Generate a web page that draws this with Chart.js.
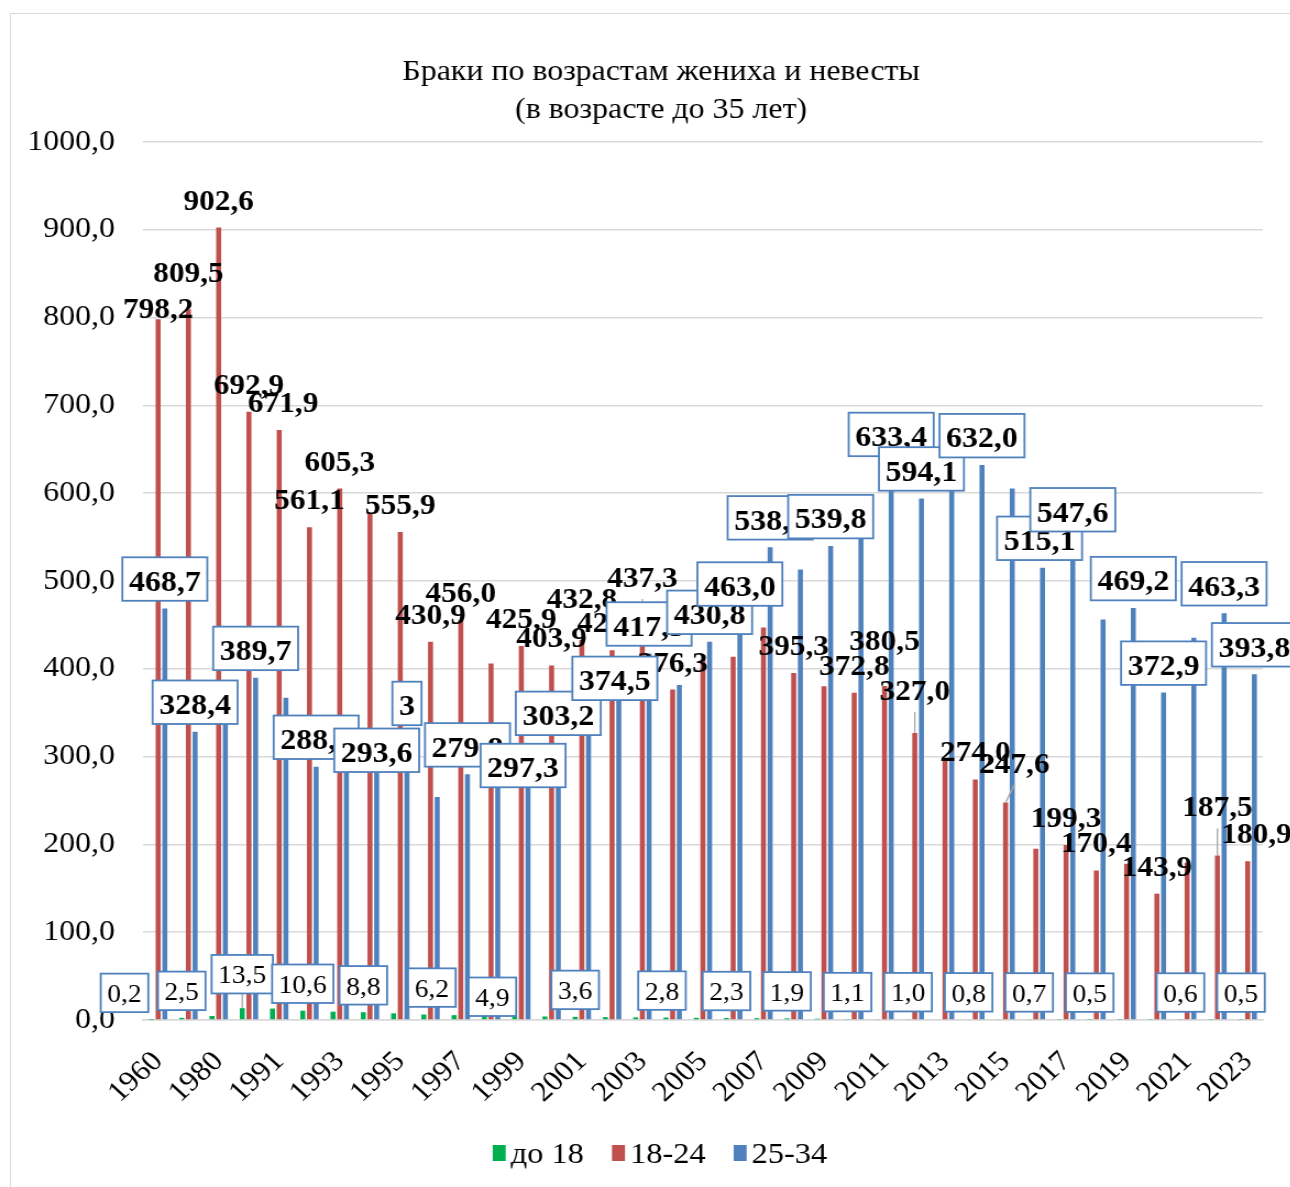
<!DOCTYPE html>
<html lang="ru">
<head>
<meta charset="utf-8">
<title>Браки по возрастам жениха и невесты</title>
<script src="https://cdn.jsdelivr.net/npm/chart.js@4.4.1/dist/chart.umd.min.js"></script>
<style>
  html, body { margin: 0; padding: 0; background: #fff; overflow: hidden; width: 1290px; height: 1187px; }
  #frame { position: absolute; left: 10px; top: 13px; width: 1300px; height: 1200px;
           border: 1px solid #d9d9d9; box-sizing: border-box; overflow: hidden; }
  /* the original picture is a little wider than Times metrics: stretch horizontally */
  #stretch { position: absolute; left: 0; top: 0; transform: scaleX(1.1); transform-origin: 0 0; }
  canvas { display: block; }
</style>
</head>
<body>
<div id="frame"><div id="stretch"><canvas id="chart" width="1182" height="1173"></canvas></div></div>
<script>
// ---- data -------------------------------------------------------------
const YEARS = ["1960", "1970", "1980", "1990", "1991", "1992", "1993", "1994", "1995", "1996",
  "1997", "1998", "1999", "2000", "2001", "2002", "2003", "2004", "2005", "2006", "2007",
  "2008", "2009", "2010", "2011", "2012", "2013", "2014", "2015", "2016", "2017", "2018",
  "2019", "2020", "2021", "2022", "2023"];

const UNDER_18 = [0.2, 2.5, 4.6, 13.5, 13.0, 10.6, 9.5, 8.8, 7.6, 6.2, 5.5, 4.9, 4.3, 4.0,
  3.6, 3.3, 3.0, 2.8, 2.5, 2.3, 2.1, 1.9, 1.5, 1.1, 1.0, 1.0, 0.9, 0.8, 0.7, 0.7, 0.6, 0.5,
  0.5, 0.5, 0.6, 0.5, 0.5];

const AGE_18_24 = [798.2, 809.5, 902.6, 692.9, 671.9, 561.1, 605.3, 577.0, 555.9, 430.9,
  456.0, 406.0, 425.9, 403.9, 432.8, 421.0, 437.3, 376.3, 410.0, 413.8, 447.0, 395.3, 380.0,
  372.8, 380.5, 327.0, 298.0, 274.0, 247.6, 195.0, 199.3, 170.4, 178.0, 143.9, 179.0, 187.5,
  180.9];

const AGE_25_34 = [468.7, 328.4, 345.0, 389.7, 367.0, 288.5, 300.0, 293.6, 327.0, 254.0,
  279.8, 266.0, 297.3, 303.2, 340.0, 374.5, 417.5, 381.5, 430.8, 463.0, 538.4, 513.0, 539.8,
  552.0, 633.4, 594.1, 612.0, 632.0, 605.5, 515.1, 547.6, 456.3, 469.2, 372.9, 435.5, 463.3,
  393.8];

// which bars carry a visible value label (the rest are hidden in the original)
const GREEN_LABELED = [0, 1, 3, 5, 7, 9, 11, 14, 17, 19, 21, 23, 25, 27, 29, 31, 34, 36];
const RED_LABELED = [0, 1, 2, 3, 4, 5, 6, 8, 9, 10, 12, 13, 14, 15, 16, 17, 21, 23, 24, 25,
  27, 28, 30, 31, 33, 35, 36];
const BLUE_LABELED = [0, 1, 3, 5, 7, 8, 10, 12, 13, 15, 16, 18, 19, 20, 22, 24, 25, 27, 29,
  30, 32, 33, 35, 36];
const BLUE_TEXT_OVERRIDE = { 8: "3" };

// ---- style ------------------------------------------------------------
const COLORS = { green: "#00B050", red: "#C0504D", blue: "#4F81BD",
  grid: "#d9d9d9", box: "#4F81BD", leader: "#a6a6a6", text: "#000" };
const SERIF = "'Liberation Serif', 'Times New Roman', serif";

// label nudges [dx, dy] in canvas px, moved by hand in the original
const NUDGE = {
  red:   { 0: [0, 17], 1: [0, -9.5], 4: [3.6, 0], 14: [0, -14], 16: [0, -31], 24: [0, -18],
           25: [0, -15], 28: [8, -12], 35: [0, -21], 36: [8, 0] },
  blue:  { 7: [0, 17.5], 12: [-4.5, 36], 13: [0, -11], 15: [-3.6, 16.6], 29: [-2.7, 0] },
  green: { 0: [-24.5, 0], 3: [0, -7], 9: [7.3, 0], 11: [7.3, 8], 17: [-3.6, 0] }
};
const LEADERS = { red: [16, 25, 28, 35], green: [3] };

const fmt = v => v.toFixed(1).replace(".", ",");

function drawBox(ctx, text, cx, bottom, font, height) {
  ctx.font = font;
  const w = ctx.measureText(text).width + 12;
  const top = bottom - height;
  ctx.fillStyle = "#fff";
  ctx.fillRect(cx - w / 2, top, w, height);
  ctx.strokeStyle = COLORS.box;
  ctx.lineWidth = 1.8;
  ctx.strokeRect(cx - w / 2, top, w, height);
  ctx.fillStyle = COLORS.text;
  ctx.fillText(text, cx, bottom - 10);
}

function leader(ctx, x1, y1, x2, y2) {
  ctx.strokeStyle = COLORS.leader;
  ctx.lineWidth = 1.3;
  ctx.beginPath();
  ctx.moveTo(x1, y1);
  ctx.lineTo(x2, y2);
  ctx.stroke();
}

const valueLabels = {
  id: "valueLabels",
  afterDatasetsDraw(chart) {
    const ctx = chart.ctx;
    const bar = (di, i) => chart.getDatasetMeta(di).data[i].getProps(["x", "y"], true);
    ctx.save();
    ctx.textAlign = "center";
    ctx.textBaseline = "alphabetic";

    // 18-24: bold text, no frame
    RED_LABELED.forEach(i => {
      const b = bar(1, i);
      const [dx, dy] = NUDGE.red[i] || [0, 0];
      const x = b.x + dx, base = b.y - 18 + dy;
      if (LEADERS.red.includes(i)) leader(ctx, b.x, b.y, x, base + 12);
      ctx.font = "bold 28.5px " + SERIF;
      ctx.fillStyle = COLORS.text;
      ctx.fillText(fmt(AGE_18_24[i]), x, base);
    });

    // 25-34: bold text in a framed box
    BLUE_LABELED.forEach(i => {
      const b = bar(2, i);
      const [dx, dy] = NUDGE.blue[i] || [0, 0];
      const text = BLUE_TEXT_OVERRIDE[i] || fmt(AGE_25_34[i]);
      drawBox(ctx, text, b.x + dx, b.y - 7.7 + dy, "bold 29px " + SERIF, 43.5);
    });

    // до 18: regular text in a framed box
    GREEN_LABELED.forEach(i => {
      const b = bar(0, i);
      const [dx, dy] = NUDGE.green[i] || [0, 0];
      const bottom = b.y - 7.7 + dy;
      if (LEADERS.green.includes(i)) leader(ctx, b.x, b.y, b.x + dx, bottom);
      drawBox(ctx, fmt(UNDER_18[i]), b.x + dx, bottom, "25px " + SERIF, 38.5);
    });
    ctx.restore();
  }
};

// legend drawn by hand so the key/text spacing follows the original
const bottomLegend = {
  id: "bottomLegend",
  afterDraw(chart) {
    const ctx = chart.ctx;
    const items = chart.data.datasets;
    const boxW = 11.8, boxH = 16, gap = 4.5, spacing = 25.5, centerX = 590, baseY = 1149;
    ctx.save();
    ctx.font = "29.5px " + SERIF;
    ctx.textBaseline = "alphabetic";
    ctx.textAlign = "left";
    const widths = items.map(d => boxW + gap + ctx.measureText(d.label).width);
    const total = widths.reduce((a, b) => a + b, 0) + spacing * (items.length - 1);
    let x = centerX - total / 2;
    items.forEach((d, k) => {
      ctx.fillStyle = d.backgroundColor;
      ctx.fillRect(x, baseY - 18, boxW, boxH);
      ctx.fillStyle = COLORS.text;
      ctx.fillText(d.label, x + boxW + gap, baseY);
      x += widths[k] + spacing;
    });
    ctx.restore();
  }
};

new Chart(document.getElementById("chart").getContext("2d"), {
  type: "bar",
  data: {
    labels: YEARS,
    datasets: [
      { label: "до 18", data: UNDER_18, backgroundColor: COLORS.green },
      { label: "18-24", data: AGE_18_24, backgroundColor: COLORS.red },
      { label: "25-34", data: AGE_25_34, backgroundColor: COLORS.blue }
    ]
  },
  options: {
    responsive: false,
    animation: false,
    datasets: { bar: { categoryPercentage: 0.663, barPercentage: 0.75 } },
    layout: { padding: { left: 0, right: 0, top: 0, bottom: 67 } },
    plugins: {
      legend: { display: false },
      tooltip: { enabled: false },
      title: {
        display: true,
        text: ["Браки по возрастам жениха и невесты", "(в возрасте до 35 лет)"],
        color: COLORS.text,
        font: { family: SERIF, size: 29, weight: "normal", lineHeight: 1.29 },
        padding: { top: 40, bottom: 13.2 }
      }
    },
    scales: {
      x: {
        afterFit: s => { s.height = 100; },
        grid: { display: false, drawTicks: false },
        border: { display: true, color: COLORS.grid, width: 1.5 },
        ticks: {
          autoSkip: false, maxRotation: 45, minRotation: 45, padding: 25,
          color: COLORS.text, font: { family: SERIF, size: 28.5 },
          callback: (v, i) => (i % 2 === 0 ? YEARS[i] : "")
        }
      },
      y: {
        min: 0, max: 1000,
        afterFit: s => { s.width = 120; },
        grid: { color: COLORS.grid, lineWidth: 1.5, drawTicks: false },
        border: { display: false },
        ticks: {
          stepSize: 100, padding: 25.5, color: COLORS.text,
          font: { family: SERIF, size: 29 },
          callback: v => fmt(v)
        }
      },
      // empty right-hand gutter, keeps the title centred on the whole frame
      gutter: {
        type: "linear", position: "right",
        afterFit: s => { s.width = 44; },
        grid: { display: false, drawTicks: false },
        border: { display: false },
        ticks: { display: false }
      }
    }
  },
  plugins: [valueLabels, bottomLegend]
});
</script>
</body>
</html>
